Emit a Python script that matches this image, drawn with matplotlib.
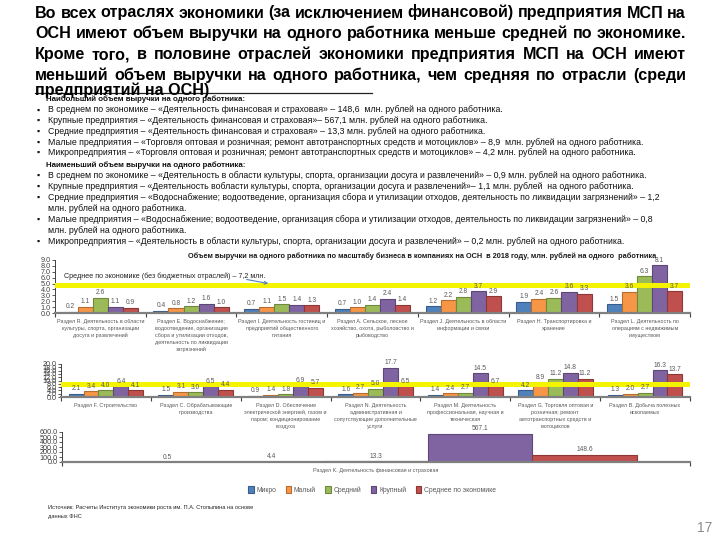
import matplotlib
matplotlib.use('Agg')
import matplotlib.pyplot as plt
from matplotlib.patches import Patch, FancyArrowPatch

plt.rcParams['font.family'] = ['Liberation Sans', 'DejaVu Sans']

W, H = 720, 540

# --- text ---
title_lines = [
    'Во всех отраслях экономики (за исключением финансовой) предприятия МСП на',
    'ОСН имеют объем выручки на одного работника меньше средней по экономике.',
    'Кроме того, в половине отраслей экономики предприятия МСП на ОСН имеют',
    'меньший объем выручки на одного работника, чем средняя по отрасли (среди',
    'предприятий на ОСН)',
]
best_header = 'Наибольший объем выручки на одного работника:'
best_items = [
    'В среднем по экономике – «Деятельность финансовая и страховая» – 148,6  млн. рублей на одного работника.',
    'Крупные предприятия – «Деятельность финансовая и страховая»– 567,1 млн. рублей на одного работника.',
    'Средние предприятия – «Деятельность финансовая и страховая» – 13,3 млн. рублей на одного работника.',
    'Малые предприятия – «Торговля оптовая и розничная; ремонт автотранспортных средств и мотоциклов» – 8,9  млн. рублей на одного работника.',
    'Микропредприятия – «Торговля оптовая и розничная; ремонт автотранспортных средств и мотоциклов» – 4,2 млн. рублей на одного работника.',
]
worst_header = 'Наименьший объем выручки на одного работника:'
worst_items = [
    'В среднем по экономике – «Деятельность в области культуры, спорта, организации досуга и развлечений» – 0,9 млн. рублей на одного работника.',
    'Крупные предприятия – «Деятельность вобласти культуры, спорта, организации досуга и развлечений»– 1,1 млн. рублей  на одного работника.',
    'Средние предприятия – «Водоснабжение; водоотведение, организация сбора и утилизации отходов, деятельность по ликвидации загрязнений» – 1,2\nмлн. рублей на одного работника.',
    'Малые предприятия – «Водоснабжение; водоотведение, организация сбора и утилизации отходов, деятельность по ликвидации загрязнений» – 0,8\nмлн. рублей на одного работника.',
    'Микропредприятия – «Деятельность в области культуры, спорта, организации досуга и развлечений» – 0,2 млн. рублей на одного работника.',
]
chart_title = ('Объем выручки на одного работника по масштабу бизнеса в компаниях на ОСН  '
               'в 2018 году, млн. рублей на одного  работника')
avg_note = 'Среднее по экономике (без бюджетных отраслей) – 7,2 млн.'
source = 'Источник: Расчеты Института экономики роста им. П.А. Столыпина на основе\nданных ФНС'

# --- data ---
series = ['Микро', 'Малый', 'Средний', 'Крупный', 'Среднее по экономике']
colors = ['#4F81BD', '#F79646', '#9BBB59', '#8064A2', '#C0504D']
edges = ['#385D8A', '#B66D31', '#71893F', '#5C4776', '#8C3836']

top_cats = [
    'Раздел R. Деятельность в области\nкультуры, спорта, организации\nдосуга и развлечений',
    'Раздел E. Водоснабжение;\nводоотведение, организация\nсбора и утилизации отходов,\nдеятельность по ликвидации\nзагрязнений',
    'Раздел I. Деятельность гостиниц и\nпредприятий общественного\nпитания',
    'Раздел A. Сельское, лесное\nхозяйство, охота, рыболовство и\nрыбоводство',
    'Раздел J. Деятельность в области\nинформации и связи',
    'Раздел H. Транспортировка и\nхранение',
    'Раздел L. Деятельность по\nоперациям с недвижимым\nимуществом',
]
top_micro = [0.2, 0.4, 0.7, 0.7, 1.2, 1.9, 1.5]
top_small = [1.1, 0.8, 1.1, 1.0, 2.2, 2.4, 3.6]
top_medium = [2.6, 1.2, 1.5, 1.4, 2.8, 2.6, 6.3]
top_large = [1.1, 1.6, 1.4, 2.4, 3.7, 3.6, 8.1]
top_avg = [0.9, 1.0, 1.3, 1.4, 2.9, 3.3, 3.7]

mid_cats = [
    'Раздел F. Строительство',
    'Раздел C. Обрабатывающие\nпроизводства',
    'Раздел D. Обеспечение\nэлектрической энергией, газом и\nпаром; кондиционирование\nвоздуха',
    'Раздел N. Деятельность\nадминистративная и\nсопутствующие дополнительные\nуслуги',
    'Раздел M. Деятельность\nпрофессиональная, научная и\nтехническая',
    'Раздел G. Торговля оптовая и\nрозничная; ремонт\nавтотранспортных средств и\nмотоциклов',
    'Раздел B. Добыча полезных\nископаемых',
]
mid_micro = [2.1, 1.5, 0.9, 1.6, 1.4, 4.2, 1.3]
mid_small = [3.4, 3.1, 1.4, 2.7, 2.4, 8.9, 2.0]
mid_medium = [4.0, 3.0, 1.8, 5.0, 2.7, 11.2, 2.7]
mid_large = [6.4, 6.5, 6.9, 17.7, 14.5, 14.8, 16.3]
mid_avg = [4.1, 4.4, 5.7, 6.5, 6.7, 11.2, 13.7]

fin_cats = ['Раздел K. Деятельность финансовая и страховая']
fin_micro = [0.5]
fin_small = [4.4]
fin_medium = [13.3]
fin_large = [567.1]
fin_avg = [148.6]

# level of the drawn yellow "average" band in each panel, as it appears
avg_band = [4.8, 7.9]

fig = plt.figure(figsize=(7.2, 5.4), dpi=100)


def fx(x):
    return x / W


def fy(y):
    return 1 - y / H


def justify(text, y, x0, x1, **kw):
    words = text.split(' ')
    r = fig.canvas.get_renderer()
    objs = [fig.text(0, fy(y), w, va='baseline', **kw) for w in words]
    widths = [o.get_window_extent(r).width for o in objs]
    gap = (x1 - x0 - sum(widths)) / (len(words) - 1)
    x = x0
    for o, w in zip(objs, widths):
        o.set_x(fx(x))
        x += w + gap


# title
for i, line in enumerate(title_lines[:4]):
    justify(line, 17.5 + i * 20.8, 35, 686, fontsize=11.6, fontweight='bold')
fig.text(fx(35), fy(95), title_lines[4], fontsize=11.6, fontweight='bold', va='baseline')
fig.add_artist(plt.Line2D([fx(35), fx(372)], [fy(92.5), fy(92.5)], color='#222222', lw=0.9))

# bullet blocks
small = dict(fontsize=6.3, color='#111111', va='center')
head = dict(fontsize=5.7, color='#111111', va='center', fontweight='bold')
fig.text(fx(46), fy(99), best_header, **head)
yy = 110
for item in best_items:
    fig.text(fx(37), fy(yy), '▪', **small)
    fig.text(fx(48), fy(yy), item, **small)
    yy += 10.7
fig.text(fx(46), fy(165), worst_header, **head)
yy = 175.5
for item in worst_items:
    parts = item.split('\n')
    fig.text(fx(37), fy(yy), '▪', **small)
    for k, part in enumerate(parts):
        fig.text(fx(48), fy(yy + k * 11), part, **small)
    yy += 11 * len(parts)

fig.text(fx(422), fy(256), chart_title, fontsize=5.3, fontweight='bold',
         ha='center', va='center', color='#1a1a1a')


def panel(rect, cats, values, ymax, ystep, band=None):
    ax = fig.add_axes(rect)
    n = len(cats)
    bw = 0.166
    for k, vals in enumerate(values):
        xs = [i + (k - 2) * bw for i in range(n)]
        bars = ax.bar(xs, vals, width=bw, color=colors[k], edgecolor=edges[k],
                      linewidth=0.8, zorder=2)
        ax.bar_label(bars, labels=[f'{v:.1f}' for v in vals], padding=1,
                     fontsize=4.8, color='#595959', zorder=5)
    if band is not None:
        ax.axhline(band, color='#F4F400', lw=3.6, zorder=3)
    ax.set_xlim(-0.5, n - 0.5)
    ax.set_ylim(0, ymax)
    ticks = [ystep * i for i in range(int(round(ymax / ystep)) + 1)]
    ax.set_yticks(ticks, labels=[f'{t:.1f}' for t in ticks])
    ax.tick_params(axis='y', labelsize=5.2, labelcolor='#404040', length=2,
                   width=0.6, color='#404040', pad=1)
    ax.set_xticks(range(n), labels=cats)
    ax.tick_params(axis='x', length=0, pad=4, labelsize=3.9, labelcolor='#595959')
    for lab in ax.get_xticklabels():
        lab.set_linespacing(1.5)
    ax.set_xticks([i - 0.5 for i in range(n + 1)], minor=True)
    ax.tick_params(axis='x', which='minor', length=3, width=0.8, color='#404040')
    for s in ['top', 'right']:
        ax.spines[s].set_visible(False)
    ax.spines['left'].set_color('#404040')
    ax.spines['left'].set_linewidth(0.7)
    ax.spines['bottom'].set_color('#808080')
    ax.spines['bottom'].set_linewidth(1.6)
    ax.patch.set_alpha(0)
    return ax


ax1 = panel([fx(55), fy(313), fx(635), 53 / H], top_cats,
            [top_micro, top_small, top_medium, top_large, top_avg], 9, 1, avg_band[0])
ax2 = panel([fx(61), fy(397), fx(629), 33 / H], mid_cats,
            [mid_micro, mid_small, mid_medium, mid_large, mid_avg], 20, 2, avg_band[1])
ax3 = panel([fx(62), fy(462), fx(628), 30 / H], fin_cats,
            [fin_micro, fin_small, fin_medium, fin_large, fin_avg], 600, 100)

fig.text(fx(64), fy(276), avg_note, fontsize=5.1, color='#222222', va='center')
fig.add_artist(FancyArrowPatch(
    (fx(244), fy(279)), (fx(271), fy(284)), transform=fig.transFigure,
    arrowstyle='->', mutation_scale=5, color='#4F81BD', lw=0.8))

handles = [Patch(facecolor=c, edgecolor=e, lw=0.8) for c, e in zip(colors, edges)]
leg = fig.legend(handles, series, loc='center', bbox_to_anchor=(fx(372), fy(490)),
                 ncol=5, frameon=False, fontsize=4.9, handlelength=0.8,
                 handleheight=1.1, handletextpad=0.4, columnspacing=1.4)
for t in leg.get_texts():
    t.set_color('#595959')

fig.text(fx(48), fy(505), source, fontsize=4.1, color='#222222', va='top',
         linespacing=2.0)
fig.text(fx(712), fy(528), '17', fontsize=10, color='#8c8c8c', ha='right', va='center')

fig.savefig('out.png', dpi=100, facecolor='white')
